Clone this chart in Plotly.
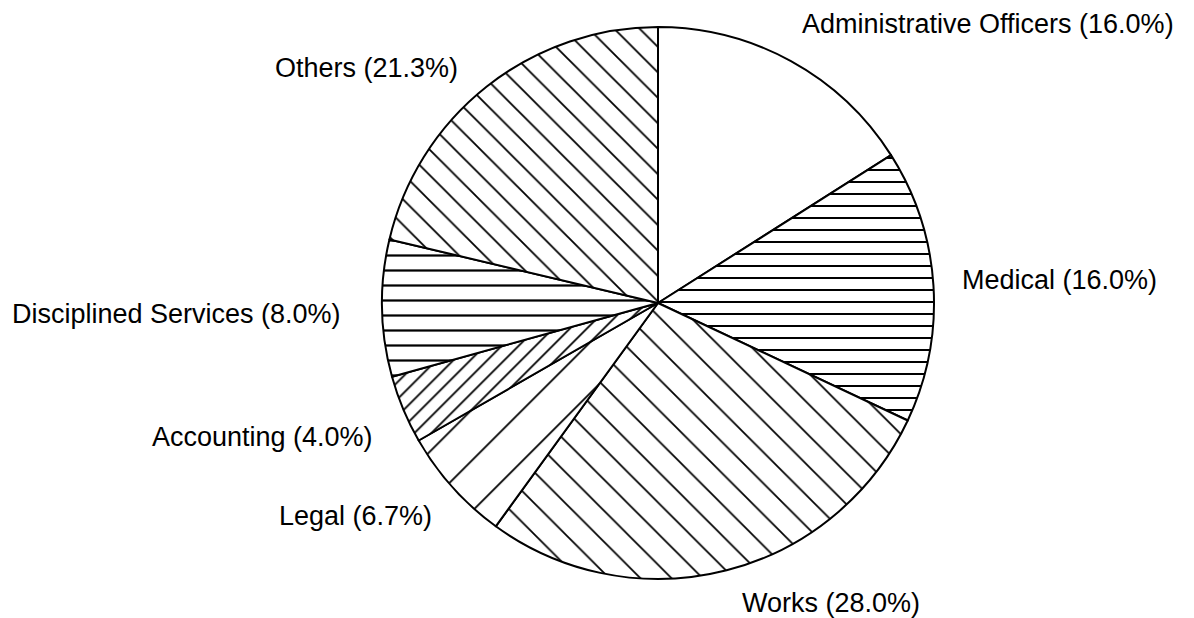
import plotly.graph_objects as go

# Data (clockwise from 12 o'clock)
categories = [
    "Administrative Officers", "Medical", "Works", "Legal",
    "Accounting", "Disciplined Services", "Others",
]
shares = [16.0, 16.0, 28.0, 6.7, 4.0, 8.0, 21.3]

# hatch style per slice
hatch_shapes = ["", "-", "\\", "/", "/", "-", "\\"]
hatch_sizes = [10, 12, 22, 36, 12, 15, 18]
hatch_solidity = [0.1, 0.17, 0.08, 0.05, 0.15, 0.15, 0.1]

W, H = 1194, 618
OFF = 8  # page body margin

# label anchors in page pixels (left edge, vertical centre)
label_px = [800, 960, 740, 277, 150, 10, 273]
label_py = [24, 280, 603, 516, 437, 314, 68]

# pie centre / radius in page pixels
cx, cy, r = 658, 303, 276

fig = go.Figure()
fig.add_trace(
    go.Pie(
        labels=categories,
        values=shares,
        sort=False,
        direction="clockwise",
        rotation=0,
        textinfo="none",
        hoverinfo="label+percent",
        showlegend=False,
        domain=dict(
            x=[(cx - OFF - r) / W, (cx - OFF + r) / W],
            y=[1 - (cy - OFF + r) / H, 1 - (cy - OFF - r) / H],
        ),
        marker=dict(
            colors=["white"] * len(categories),
            line=dict(color="#000000", width=2),
            pattern=dict(
                shape=hatch_shapes,
                size=hatch_sizes,
                solidity=hatch_solidity,
                fgcolor="#000000",
                fgopacity=1,
                bgcolor="white",
                fillmode="overlay",
            ),
        ),
    )
)

for name, val, px, py in zip(categories, shares, label_px, label_py):
    fig.add_annotation(
        text=f"{name} ({val:.1f}%)",
        x=(px - OFF) / W, y=1 - (py - OFF) / H,
        xref="paper", yref="paper",
        xanchor="left", yanchor="middle",
        showarrow=False,
        font=dict(family="Liberation Sans, Arial, sans-serif", size=27, color="#000000"),
    )

fig.update_layout(
    width=W,
    height=H,
    margin=dict(l=0, r=0, t=0, b=0),
    paper_bgcolor="white",
    plot_bgcolor="white",
)

fig.write_html("out.html")
